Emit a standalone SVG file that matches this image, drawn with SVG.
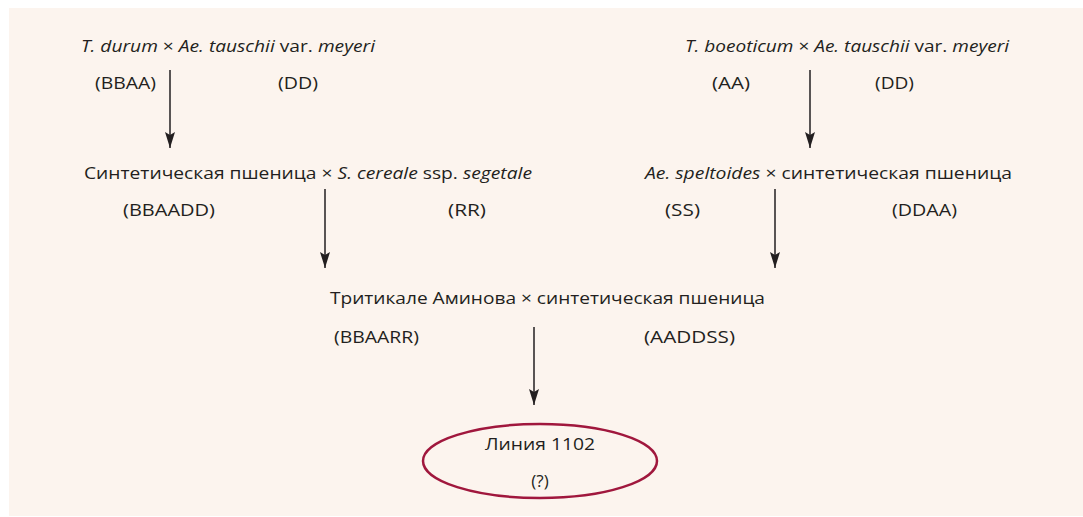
<svg xmlns="http://www.w3.org/2000/svg" width="1083" height="517" viewBox="0 0 1083 517">
<defs>
<style>
.t{font-family:"Open Sans","Liberation Sans",sans-serif;font-size:17px;fill:#231f20}
.i{font-style:italic}
.c{stroke:#231f20;stroke-width:1.5;fill:none}
</style>
<marker id="ah" viewBox="0 0 16 10" refX="16" refY="5" markerWidth="16" markerHeight="10" markerUnits="userSpaceOnUse" orient="auto">
<path d="M0,0 L3,5 L0,10 L16,5 Z" fill="#231f20"/>
</marker>
</defs>
<rect x="9" y="8" width="1074" height="508" fill="#fcf4ee"/>
<g id="n1">
<text class="t" x="81" y="52" textLength="294" lengthAdjust="spacingAndGlyphs"><tspan class="i">T. durum</tspan> × <tspan class="i">Ae. tauschii</tspan> var. <tspan class="i">meyeri</tspan></text>
<text class="t" x="95" y="89" textLength="61" lengthAdjust="spacingAndGlyphs">(BBAA)</text>
<text class="t" x="278" y="89" textLength="40" lengthAdjust="spacingAndGlyphs">(DD)</text>
</g>
<g id="n2">
<text class="t" x="685" y="52" textLength="324" lengthAdjust="spacingAndGlyphs"><tspan class="i">T. boeoticum</tspan> × <tspan class="i">Ae. tauschii</tspan> var. <tspan class="i">meyeri</tspan></text>
<text class="t" x="712" y="89" textLength="38" lengthAdjust="spacingAndGlyphs">(AA)</text>
<text class="t" x="875" y="89" textLength="39" lengthAdjust="spacingAndGlyphs">(DD)</text>
</g>
<g id="n3">
<text class="t" x="84" y="179" textLength="448" lengthAdjust="spacingAndGlyphs">Синтетическая пшеница × <tspan class="i">S. cereale</tspan> ssp. <tspan class="i">segetale</tspan></text>
<text class="t" x="123" y="216" textLength="92" lengthAdjust="spacingAndGlyphs">(BBAADD)</text>
<text class="t" x="448" y="216" textLength="38" lengthAdjust="spacingAndGlyphs">(RR)</text>
</g>
<g id="n4">
<text class="t" x="645" y="179" textLength="367" lengthAdjust="spacingAndGlyphs"><tspan class="i">Ae. speltoides</tspan> × синтетическая пшеница</text>
<text class="t" x="665" y="216" textLength="35" lengthAdjust="spacingAndGlyphs">(SS)</text>
<text class="t" x="892" y="216" textLength="65" lengthAdjust="spacingAndGlyphs">(DDAA)</text>
</g>
<g id="n5">
<text class="t" x="330" y="304" textLength="435" lengthAdjust="spacingAndGlyphs">Тритикале Аминова × синтетическая пшеница</text>
<text class="t" x="334" y="343" textLength="85" lengthAdjust="spacingAndGlyphs">(BBAARR)</text>
<text class="t" x="644" y="343" textLength="91" lengthAdjust="spacingAndGlyphs">(AADDSS)</text>
</g>
<g id="n6">
<ellipse cx="540" cy="461" rx="117" ry="37" fill="none" stroke="#a0173d" stroke-width="2.5"/>
<text class="t" x="540" y="450" text-anchor="middle" textLength="110" lengthAdjust="spacingAndGlyphs">Линия 1102</text>
<text class="t" x="540" y="487" text-anchor="middle">(?)</text>
</g>
<g id="connectors">
<line class="c" x1="170" y1="70" x2="170" y2="148" marker-end="url(#ah)"/>
<line class="c" x1="810" y1="70" x2="810" y2="148" marker-end="url(#ah)"/>
<line class="c" x1="325" y1="189" x2="325" y2="268" marker-end="url(#ah)"/>
<line class="c" x1="775" y1="189" x2="775" y2="268" marker-end="url(#ah)"/>
<line class="c" x1="534" y1="327" x2="534" y2="405" marker-end="url(#ah)"/>
</g>
</svg>
